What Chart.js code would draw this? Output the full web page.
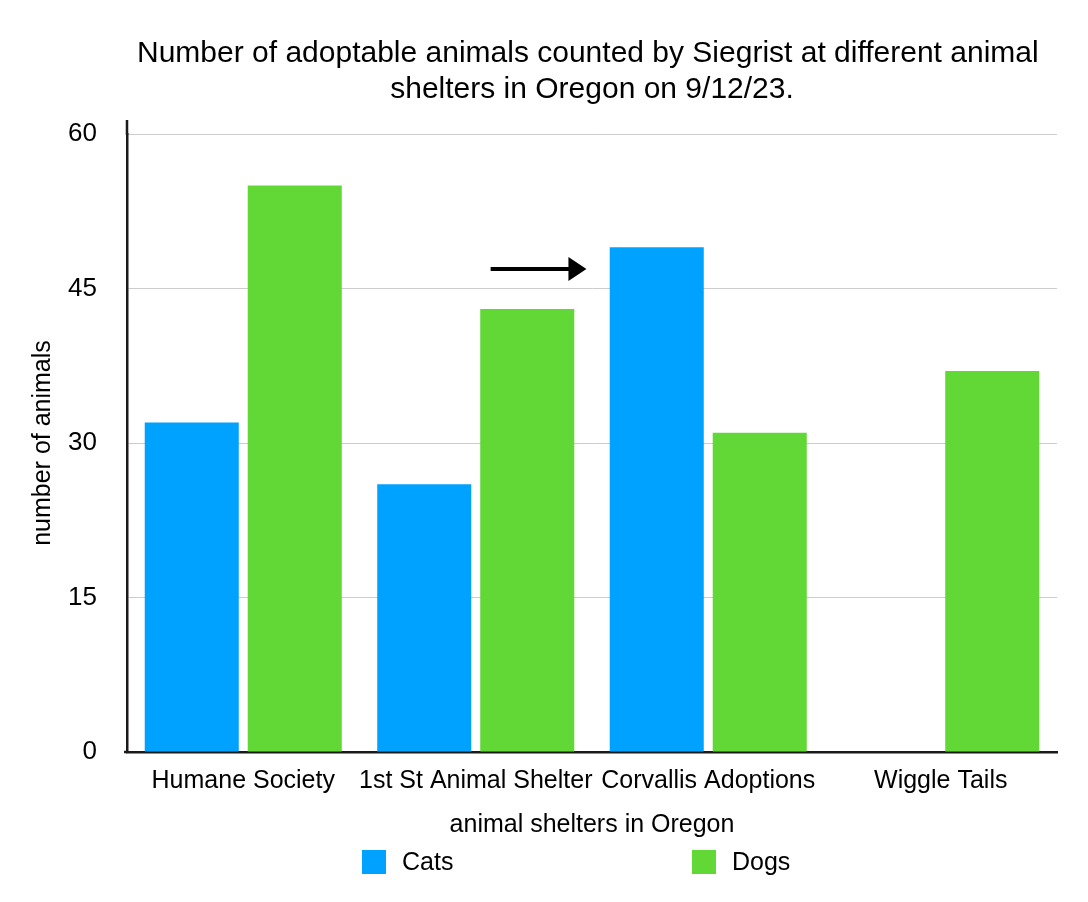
<!DOCTYPE html>
<html>
<head>
<meta charset="utf-8">
<script src="https://cdn.jsdelivr.net/npm/chart.js@4/dist/chart.umd.min.js"></script>
<style>
  html, body { margin: 0; padding: 0; background: #ffffff; }
  #wrap { width: 1088px; height: 902px; position: relative; }
</style>
</head>
<body>
<div id="wrap"><canvas id="c"></canvas></div>
<script>
// ---- data ----
const categories = ["Humane Society", "1st St Animal Shelter", "Corvallis Adoptions", "Wiggle Tails"];
const cats = [32, 26, 49, 0];
const dogs = [55, 43, 31, 37];
const seriesNames = ["Cats", "Dogs"];
const yTicks = [0, 15, 30, 45, 60];
const titleLines = ["Number of adoptable animals counted by Siegrist at different animal ", "shelters in Oregon on 9/12/23."];
const xTitle = "animal shelters in Oregon";
const yTitle = "number of animals";
// annotation arrow (in data terms: category index, value)
const arrowStart = [1.064, 46.9];
const arrowEnd = [1.476, 46.9];

const FONT = "'Liberation Sans', Arial, Helvetica, sans-serif";
const BLUE = "#00A2FF";
const GREEN = "#61D836";
const AXIS = "#1a1a1a";

const arrowPlugin = {
  id: 'arrow',
  afterDatasetsDraw(chart) {
    const {ctx, scales: {x, y}} = chart;
    const x1 = x.getPixelForValue(arrowStart[0]);
    const y1 = y.getPixelForValue(arrowStart[1]);
    const x2 = x.getPixelForValue(arrowEnd[0]);
    const y2 = y.getPixelForValue(arrowEnd[1]);
    const head = 18, half = 12;
    ctx.save();
    ctx.strokeStyle = '#000';
    ctx.fillStyle = '#000';
    ctx.lineWidth = 4;
    ctx.beginPath();
    ctx.moveTo(x1, y1);
    ctx.lineTo(x2 - head + 1, y2);
    ctx.stroke();
    ctx.beginPath();
    ctx.moveTo(x2, y2);
    ctx.lineTo(x2 - head, y2 - half);
    ctx.lineTo(x2 - head, y2 + half);
    ctx.closePath();
    ctx.fill();
    ctx.restore();
  }
};

const axisExtPlugin = {
  id: 'axisExt',
  afterDraw(chart) {
    const {ctx, chartArea} = chart;
    ctx.save();
    ctx.strokeStyle = AXIS;
    ctx.lineWidth = 2.5;
    ctx.beginPath();
    ctx.moveTo(chartArea.left, chartArea.top + 1);
    ctx.lineTo(chartArea.left, chartArea.top - 14);
    ctx.moveTo(chartArea.left, chartArea.bottom);
    ctx.lineTo(chartArea.left - 3, chartArea.bottom);
    ctx.stroke();
    ctx.restore();
  }
};

const legendPlugin = {
  id: 'customLegend',
  afterDraw(chart) {
    const {ctx, chartArea, scales: {x}} = chart;
    const cx = (chartArea.left + chartArea.right) / 2;
    const yc = x.bottom + 22;
    const box = 24;
    ctx.save();
    ctx.font = "25px " + FONT;
    ctx.textBaseline = 'middle';
    ctx.textAlign = 'left';
    chart.data.datasets.forEach((ds, i) => {
      const start = cx - 230 + i * 330;
      ctx.fillStyle = ds.backgroundColor;
      ctx.fillRect(start, yc - box / 2, box, box);
      ctx.fillStyle = '#000';
      ctx.fillText(ds.label, start + box + 16, yc + 1);
    });
    ctx.restore();
  }
};

new Chart(document.getElementById('c'), {
  type: 'bar',
  data: {
    labels: categories,
    datasets: [
      { label: seriesNames[0], data: cats, backgroundColor: BLUE },
      { label: seriesNames[1], data: dogs, backgroundColor: GREEN }
    ]
  },
  options: {
    responsive: true,
    maintainAspectRatio: false,
    animation: false,
    categoryPercentage: 0.886,
    barPercentage: 0.913,
    layout: { padding: { top: 0, left: 28, right: 31, bottom: 62 } },
    plugins: {
      legend: { display: false },
      tooltip: { enabled: false },
      title: {
        display: true,
        fullSize: false,
        text: titleLines,
        color: '#000',
        font: { family: FONT, size: 30, weight: 'normal', lineHeight: 1.2 },
        padding: { top: 36, bottom: 26 }
      }
    },
    scales: {
      x: {
        grid: { display: false, drawTicks: false },
        border: { display: true, color: AXIS, width: 2.5 },
        ticks: { color: '#000', padding: 14, font: { family: FONT, size: 25 }, maxRotation: 0, minRotation: 0, autoSkip: false },
        title: { display: true, text: xTitle, color: '#000', font: { family: FONT, size: 25, lineHeight: 1.2 }, padding: { top: 0, bottom: 0 } },
        afterFit(scale) { scale.height = 88; }
      },
      y: {
        min: 0, max: 60,
        afterBuildTicks(scale) { scale.ticks = yTicks.map(v => ({ value: v })); },
        grid: { color: '#cccccc', lineWidth: 1, drawTicks: false },
        border: { display: true, color: AXIS, width: 2.5 },
        ticks: { color: '#000', padding: 30, font: { family: FONT, size: 26 } },
        title: { display: true, text: yTitle, color: '#000', font: { family: FONT, size: 25, lineHeight: 1.2 }, padding: { top: 0, bottom: 0 } },
        afterFit(scale) { scale.width = 99; }
      }
    }
  },
  plugins: [arrowPlugin, axisExtPlugin, legendPlugin]
});
</script>
</body>
</html>
